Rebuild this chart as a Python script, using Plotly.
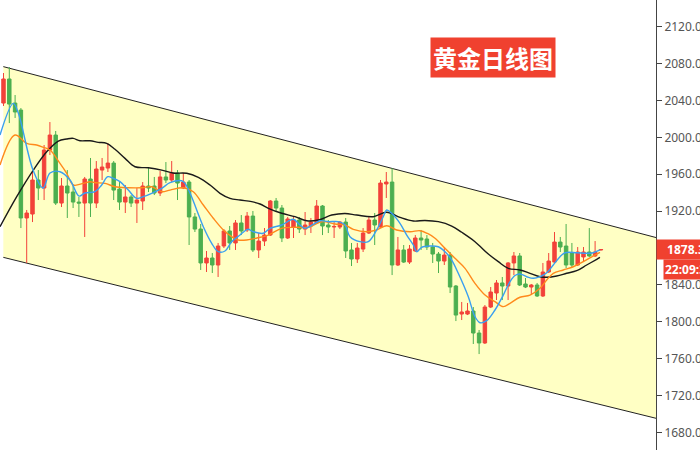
import plotly.graph_objects as go

# ---- candle data (daily gold, index = trading day) ----
opens = [2037.2,2063.3,2037.2,2029.6,1912.5,1916.8,1953.7,1945.0,1986.2,2002.5,
         1928.7,1947.2,1940.7,1929.8,1928.7,1954.8,1928.7,1964.5,1966.7,1972.1,
         1943.9,1929.8,1935.3,1928.7,1930.9,1947.2,1947.2,1939.6,1957.0,1953.7,
         1961.3,1945.0,1951.5,1913.6,1900.5,1863.7,1869.1,1861.5,1882.1,1898.4,
         1885.4,1907.1,1899.5,1914.6,1877.8,1887.5,1894.0,1930.9,1923.3,1890.8,
         1902.7,1910.3,1900.5,1903.8,1907.1,1925.5,1904.9,1902.7,1902.7,1908.1,
         1877.8,1868.0,1878.8,1896.2,1910.3,1902.7,1949.4,1951.5,1861.5,1877.8,
         1864.7,1876.7,1890.8,1889.7,1881.0,1873.4,1865.8,1872.3,1838.7,1808.3,
         1808.3,1811.6,1787.7,1776.9,1815.9,1831.1,1842.0,1838.7,1863.7,1871.3,
         1840.9,1837.6,1839.8,1827.9,1853.9,1864.7,1886.4,1882.1,1874.5,1861.5,
         1870.2,1875.6,1871.3,1877.8]
highs = [2069.8,2076.3,2045.9,2031.8,1921.2,1962.4,1964.5,1991.7,2016.6,2006.9,
         1955.9,1964.5,1948.3,1935.3,1957.0,1977.6,1974.3,1977.6,1993.8,1974.3,
         1951.5,1948.3,1937.4,1945.0,1951.5,1966.7,1957.0,1963.5,1973.2,1974.3,
         1964.5,1961.3,1953.7,1917.9,1906.0,1876.7,1874.5,1885.4,1900.5,1903.8,
         1910.3,1915.7,1919.0,1920.1,1896.2,1901.6,1932.0,1934.2,1926.6,1913.6,
         1913.6,1913.6,1919.0,1912.5,1932.0,1926.6,1910.3,1908.1,1909.2,1912.5,
         1885.4,1885.4,1901.6,1913.6,1917.9,1953.7,1962.4,1966.7,1891.9,1883.2,
         1883.2,1894.0,1899.5,1894.0,1885.4,1875.6,1881.0,1875.6,1839.8,1821.4,
         1820.3,1815.9,1791.0,1818.1,1837.6,1845.2,1848.5,1864.7,1875.6,1874.5,
         1847.4,1840.9,1842.0,1863.7,1874.5,1897.3,1891.9,1906.0,1885.4,1881.0,
         1881.0,1901.6,1887.5,1878.8]
lows = [2034.0,2015.5,2021.0,1901.6,1863.7,1908.1,1932.0,1932.0,1980.8,1926.6,
        1924.4,1912.5,1923.3,1913.6,1891.9,1913.6,1923.3,1953.7,1962.4,1932.0,
        1921.2,1917.9,1924.4,1907.1,1921.2,1940.7,1937.4,1936.3,1950.4,1951.5,
        1932.0,1943.9,1883.2,1897.3,1856.1,1853.9,1852.8,1848.5,1879.9,1877.8,
        1877.8,1894.0,1897.3,1875.6,1869.1,1882.1,1893.0,1919.0,1886.4,1889.7,
        1890.8,1896.2,1894.0,1896.2,1907.1,1894.0,1896.2,1890.8,1900.5,1869.1,
        1860.4,1863.7,1875.6,1895.1,1883.2,1901.6,1934.2,1850.6,1860.4,1863.7,
        1862.6,1875.6,1877.8,1877.8,1863.7,1852.8,1861.5,1831.1,1800.7,1801.8,
        1807.2,1775.8,1764.9,1775.8,1814.8,1823.5,1823.5,1823.5,1850.6,1838.7,
        1836.5,1828.9,1826.8,1826.8,1852.8,1863.7,1875.6,1858.2,1859.3,1860.4,
        1864.7,1870.2,1870.2,1877.2]
closes = [2063.3,2036.1,2027.5,1912.5,1917.9,1953.7,1945.0,1986.2,2002.5,1928.7,
          1947.2,1939.6,1929.8,1928.7,1954.8,1928.7,1965.6,1967.8,1972.1,1942.8,
          1929.8,1935.3,1928.7,1932.0,1947.2,1945.0,1939.6,1957.0,1953.7,1961.3,
          1950.4,1951.5,1913.6,1900.5,1863.7,1869.1,1861.5,1882.1,1898.4,1885.4,
          1907.1,1898.4,1914.6,1877.8,1887.5,1894.0,1930.9,1923.3,1890.8,1911.4,
          1910.3,1900.5,1904.9,1908.1,1925.5,1903.8,1902.7,1903.3,1908.1,1876.7,
          1868.0,1879.9,1896.2,1910.3,1904.9,1950.4,1951.5,1861.5,1877.8,1864.7,
          1878.8,1890.8,1888.6,1881.0,1873.4,1865.8,1872.3,1837.6,1807.2,1810.5,
          1811.6,1787.7,1776.9,1815.9,1832.2,1842.0,1838.7,1863.7,1871.3,1839.8,
          1837.6,1839.8,1827.9,1853.9,1865.8,1886.4,1881.0,1861.5,1861.5,1875.6,
          1875.6,1871.3,1875.6,1878.3]
days = list(range(len(opens)))

# ---- moving averages (day index, price) ----
ma_fast_x = [-0.6,1.69,2.55,5.09,6.81,8.02,9.74,11.47,13.02,14.05,15.78,16.93,17.97,18.93,
             20.09,21.52,22.97,24.10,25.55,27.28,28.71,30.72,31.29,32.16,33.31,34.45,35.90,
             37.03,38.19,39.34,40.78,42.10,43.07,44.79,45.95,47.97,49.97,51.12,51.98,53.41,
             54.57,56.00,57.72,58.88,59.74,61.47,62.90,64.34,65.48,66.07,66.93,68.36,69.52,
             70.66,71.24,72.10,73.53,74.97,76.12,77.28,78.41,80.14,81.29,82.16,83.31,84.74,
             86.17,87.33,88.19,89.05,90.21,91.34,92.50,93.66,94.79,95.95,96.81,98.83,100.55,
             101.69,102.84]
ma_fast = [2002.5,2036.9,2026.4,1964.5,1945.0,1961.3,1962.7,1953.7,1936.3,1939.6,1941.0,
           1948.3,1957.3,1955.5,1951.9,1942.8,1933.8,1935.6,1939.3,1944.7,1950.8,1952.9,
           1950.1,1939.6,1921.2,1903.0,1885.0,1875.9,1876.7,1886.8,1894.0,1900.2,1897.6,
           1895.9,1901.3,1904.9,1911.1,1904.9,1901.3,1905.6,1909.5,1908.5,1908.5,1904.9,
           1892.2,1886.8,1886.8,1899.5,1913.9,1921.2,1917.6,1906.7,1894.0,1883.2,1875.9,
           1880.7,1882.1,1881.3,1875.9,1866.9,1852.5,1827.1,1805.4,1798.9,1801.1,1812.7,
           1828.9,1843.4,1850.1,1851.7,1848.8,1847.1,1848.8,1853.1,1861.5,1870.5,1874.8,
           1874.8,1874.2,1874.8,1877.8]

ma_mid_x = [-0.6,1.98,4.0,5.72,6.86,8.02,9.74,10.9,12.03,13.76,14.91,15.78,17.5,19.22,
            21.52,23.83,25.55,27.28,28.71,31.0,32.72,34.45,36.17,37.9,39.34,40.48,41.93,
            43.7,45.66,47.97,50.26,52.55,54.86,57.16,58.88,60.31,62.62,64.34,66.07,67.79,
            70.09,71.81,73.1,74.4,76.12,77.84,79.57,81.29,83.02,84.74,86.17,87.33,89.05,
            90.78,92.5,93.66,94.79,96.52,98.24,99.97,101.69,102.84]
ma_mid = [1970.0,2002.5,1993.5,1991.7,1989.2,1986.2,1971.8,1961.0,1948.3,1950.1,1951.9,
          1950.8,1950.1,1946.4,1945.3,1945.3,1946.4,1941.0,1942.8,1945.3,1941.0,1926.6,
          1912.2,1899.5,1892.2,1888.6,1888.6,1890.8,1894.0,1901.3,1902.4,1902.4,1908.5,
          1906.0,1904.9,1900.2,1897.6,1899.5,1904.1,1899.5,1897.6,1898.7,1895.7,1890.5,
          1879.6,1868.8,1857.9,1841.6,1828.9,1821.7,1816.3,1819.9,1826.5,1828.9,1836.2,
          1845.2,1852.5,1856.1,1859.6,1865.1,1871.3,1875.3]

ma_slow_x = [-0.6,2.28,5.14,7.45,9.45,10.9,12.03,13.19,14.91,16.34,17.79,19.22,20.95,
             22.67,24.97,27.28,29.22,31.59,33.59,35.6,37.33,39.05,40.78,42.79,44.22,45.66,
             47.97,50.26,52.28,54.28,56.59,58.88,60.9,63.76,66.07,68.36,70.66,72.67,74.97,
             77.28,79.0,81.29,83.59,85.31,87.03,89.05,90.78,92.5,93.66,95.38,97.1,98.83,
             100.55,102.28,102.84]
ma_slow = [1903.0,1935.6,1964.5,1984.4,1996.0,1998.2,1998.9,1996.3,1996.3,1994.6,1993.5,
           1987.0,1977.2,1968.1,1967.0,1964.5,1961.3,1961.0,1956.6,1948.3,1939.3,1933.8,
           1932.0,1930.2,1927.7,1923.0,1917.6,1913.9,1909.5,1910.3,1915.7,1917.4,1915.7,
           1913.9,1918.7,1913.2,1909.2,1909.8,1908.5,1903.8,1897.0,1886.8,1873.4,1865.1,
           1857.9,1856.1,1852.5,1848.8,1848.2,1849.6,1852.5,1855.3,1861.5,1867.7,1869.8]

# ---- descending channel (trendlines) ----
channel_x = [-0.03, 112.5]
channel_upper = [2076.7, 1891.3]
channel_lower = [1869.8, 1695.2]

last_price = 1878.3
y_ticks = [1680, 1720, 1760, 1800, 1840, 1880, 1920, 1960, 2000, 2040, 2080, 2120]

UP = "#f2423a"
DOWN = "#4caf50"
FILL = "rgb(255,255,196)"

fig = go.Figure()

# channel body drawn beneath the candles
channel_path = (f"M {channel_x[0]},{channel_upper[0]} L {channel_x[1]},{channel_upper[1]} "
                f"L {channel_x[1]},{channel_lower[1]} L {channel_x[0]},{channel_lower[0]} Z")
fig.add_shape(type="path", path=channel_path, xref="x", yref="y", layer="below",
              fillcolor=FILL, line=dict(width=0))
for ys in (channel_upper, channel_lower):
    fig.add_shape(type="line", xref="x", yref="y", x0=channel_x[0], y0=ys[0],
                  x1=channel_x[1], y1=ys[1], layer="below",
                  line=dict(color="#222222", width=1))

fig.add_trace(go.Candlestick(
    x=days, open=opens, high=highs, low=lows, close=closes,
    increasing=dict(line=dict(color=UP, width=1), fillcolor=UP),
    decreasing=dict(line=dict(color=DOWN, width=1), fillcolor=DOWN),
    whiskerwidth=0))

fig.add_trace(go.Scatter(x=ma_slow_x, y=ma_slow, mode="lines", line_shape="spline",
                         line=dict(color="#1a1a1a", width=1.4)))
fig.add_trace(go.Scatter(x=ma_mid_x, y=ma_mid, mode="lines", line_shape="spline",
                         line=dict(color="#ff8a1c", width=1.4)))
fig.add_trace(go.Scatter(x=ma_fast_x, y=ma_fast, mode="lines", line_shape="spline",
                         line=dict(color="#3a9ff0", width=1.4)))

fig.update_layout(
    width=700, height=450,
    margin=dict(l=0, r=44, t=0, b=0, autoexpand=False),
    paper_bgcolor="white", plot_bgcolor="white",
    showlegend=False,
    boxgap=0.15,
    xaxis=dict(range=[-0.603, 112.5], visible=False, rangeslider=dict(visible=False),
               automargin=False),
    yaxis=dict(range=[1660.8, 2149.0], side="right", tickvals=y_ticks,
               ticktext=[f"{v:.1f}" for v in y_ticks], showgrid=False, zeroline=False,
               showline=True, linecolor="#444", linewidth=1, automargin=False,
               ticks="outside", ticklen=5, tickcolor="#444",
               tickfont=dict(family="Noto Sans", size=12, color="#555")),
    font=dict(family="Noto Sans"),
    annotations=[
        dict(text="<b>黄金日线图</b>", xref="paper", yref="paper", x=0.752, y=0.866,
             xanchor="center", yanchor="middle", yshift=3, showarrow=False,
             bgcolor="#f0412f", borderpad=2,
             font=dict(family="Noto Sans CJK SC", size=24, color="white")),
        dict(text=f"<b>{last_price:.1f}</b>", xref="paper", yref="y", x=1, y=last_price,
             xanchor="left", yanchor="middle", showarrow=False, bgcolor="#f0412f",
             width=56, align="center", borderpad=1,
             font=dict(family="Noto Sans", size=12, color="white")),
        dict(text="<b>22:09:35</b>", xref="paper", yref="y", x=1, y=last_price,
             xanchor="left", yanchor="middle", yshift=-20, xshift=7, showarrow=False,
             bgcolor="#f0412f", borderpad=1,
             font=dict(family="Noto Sans", size=12, color="white")),
    ],
)

fig.write_html("out.html", config={"displayModeBar": False},
               post_script="document.body.style.margin='0';")
